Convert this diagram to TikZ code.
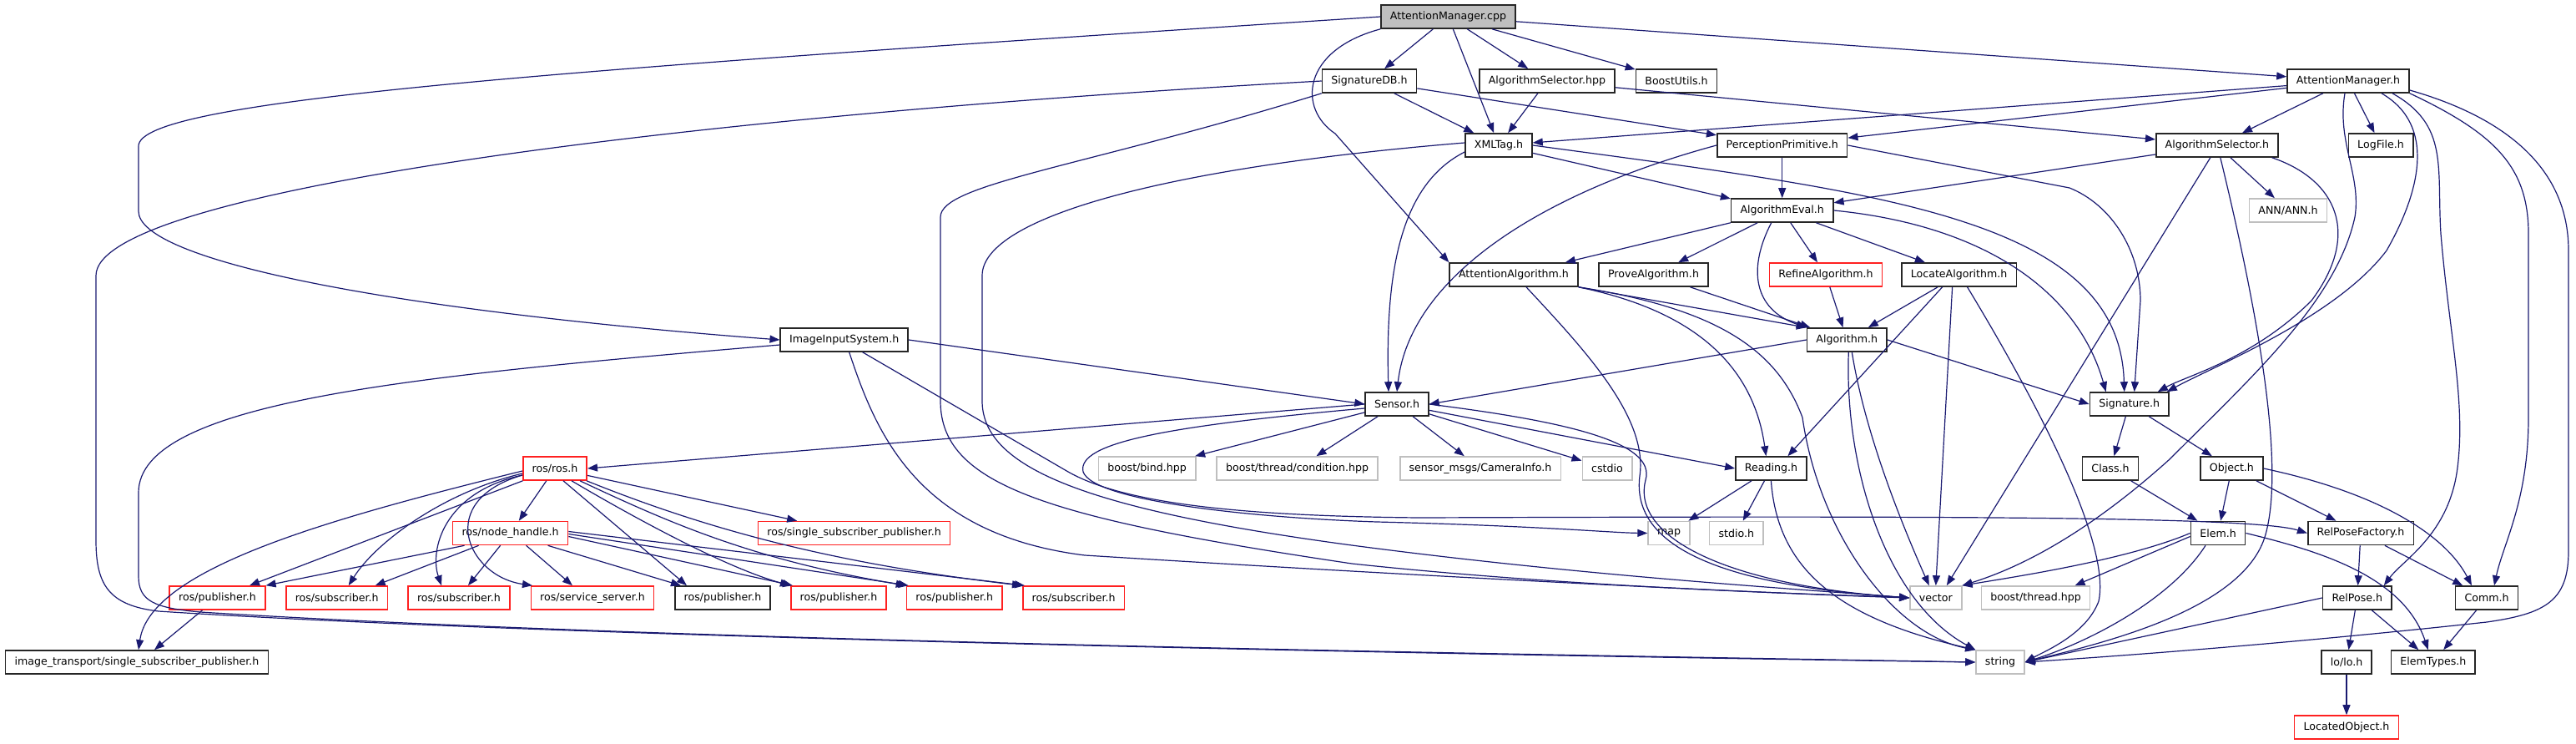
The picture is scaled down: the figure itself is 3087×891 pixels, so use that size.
\documentclass[tikz,border=0pt]{standalone}
\usepackage{fontspec}
\setmainfont{DejaVu Sans}
\usetikzlibrary{arrows.meta}
\definecolor{edgeblue}{HTML}{191970}
\definecolor{sysgray}{HTML}{BFBFBF}
\definecolor{extred}{HTML}{FF2020}

\begin{document}
\begin{tikzpicture}[
    x=1pt, y=-1pt,
    font=\fontsize{12.6}{15}\selectfont,
    incl/.style={draw=black!85, line width=1.6pt, fill=white, inner xsep=10.9pt, inner ysep=0pt, minimum height=28pt},
    hdr/.style={incl},
    sys/.style={incl, draw=sysgray},
    ext/.style={incl, draw=extred},
    root/.style={incl, fill=sysgray},
    dep/.style={draw=edgeblue, line width=1.2pt, -{Triangle[length=12pt,width=9pt]}}
]
\useasboundingbox (0,0) rectangle (3087,891);

% Files
\node (amcpp) at (1735.5,20) [root] {AttentionManager.cpp};
\node (sigdb) at (1641,97) [hdr] {SignatureDB.h};
\node (selhpp) at (1854,97) [hdr] {AlgorithmSelector.hpp};
\node (boostutils) at (2009,97) [hdr] {BoostUtils.h};
\node (amh) at (2814,97) [hdr] {AttentionManager.h};
\node (xmltag) at (1796,174) [hdr] {XMLTag.h};
\node (percprim) at (2135.7,174) [hdr] {PerceptionPrimitive.h};
\node (selh) at (2656.8,174) [hdr] {AlgorithmSelector.h};
\node (logfile) at (2853,174) [hdr] {LogFile.h};
\node (algeval) at (2135.7,252) [hdr] {AlgorithmEval.h};
\node (ann) at (2742,252) [sys] {ANN/ANN.h};
\node (attalg) at (1814,329) [hdr] {AttentionAlgorithm.h};
\node (prove) at (1981.5,329) [hdr] {ProveAlgorithm.h};
\node (refine) at (2188,329) [ext] {RefineAlgorithm.h};
\node (locate) at (2347.6,329) [hdr] {LocateAlgorithm.h};
\node (imginput) at (1011.7,407) [hdr] {ImageInputSystem.h};
\node (algorithm) at (2213.3,407) [hdr] {Algorithm.h};
\node (sensor) at (1674,484) [hdr] {Sensor.h};
\node (signature) at (2551.7,484) [hdr] {Signature.h};
\node (rosros) at (665,561) [ext] {ros/ros.h};
\node (bind) at (1374.6,561) [sys] {boost/bind.hpp};
\node (cond) at (1554.5,561) [sys] {boost/thread/condition.hpp};
\node (caminfo) at (1774,561) [sys] {sensor\_msgs/CameraInfo.h};
\node (cstdio) at (1926,561) [sys] {cstdio};
\node (reading) at (2122.4,561) [hdr] {Reading.h};
\node (classh) at (2529,561) [hdr] {Class.h};
\node (object) at (2674.4,561) [hdr] {Object.h};
\node (nodehandle) at (611.6,638.5) [ext] {ros/node\_handle.h};
\node (singlesub) at (1023.6,638.5) [ext] {ros/single\_subscriber\_publisher.h};
\node (map) at (2000,638.5) [sys] {map};
\node (stdio) at (2080.8,638.5) [sys] {stdio.h};
\node (elem) at (2658,638.5) [hdr] {Elem.h};
\node (posefac) at (2829,638.5) [hdr] {RelPoseFactory.h};
\node (pubA) at (260.5,716) [ext] {ros/publisher.h};
\node (subA) at (403.7,716) [ext] {ros/subscriber.h};
\node (subB) at (550,716) [ext] {ros/subscriber.h};
\node (srv) at (710,716) [ext] {ros/service\_server.h};
\node (pubB) at (866,716) [hdr] {ros/publisher.h};
\node (pubC) at (1005,716) [ext] {ros/publisher.h};
\node (pubD) at (1143.8,716) [ext] {ros/publisher.h};
\node (subC) at (1286.6,716) [ext] {ros/subscriber.h};
\node (vector) at (2319.8,716) [sys] {vector};
\node (bthread) at (2439.5,716) [sys] {boost/thread.hpp};
\node (relpose) at (2824.8,716) [hdr] {RelPose.h};
\node (comm) at (2980,716) [hdr] {Comm.h};
\node (imgtrans) at (164,793) [hdr] {image\_transport/single\_subscriber\_publisher.h};
\node (string) at (2397,793) [sys] {string};
\node (lolo) at (2812,793) [hdr] {lo/lo.h};
\node (elemtypes) at (2915.8,793) [hdr] {ElemTypes.h};
\node (located) at (2812,871) [ext] {LocatedObject.h};

% AttentionManager.cpp
\draw [dep] (amcpp.west) .. controls (650,85) and (166,120) .. (166,175) -- (166,253) .. controls (166,310) and (450,370) .. (imginput.west);
\draw [dep] (amcpp) -- (sigdb);
\draw [dep] (amcpp) -- (xmltag);
\draw [dep] (amcpp) -- (selhpp);
\draw [dep] (amcpp) -- (boostutils);
\draw [dep] (amcpp) -- (amh);
\draw [dep] (amcpp.south west) .. controls (1560,60) and (1555,130) .. (1600,160) -- (attalg.north west);

% SignatureDB.h
\draw [dep] (sigdb.west) .. controls (800,140) and (115,230) .. (115,330) -- (115,647) .. controls (115,700) and (130,725) .. (190,732) .. controls (700,765) and (1800,785) .. (string.west);
\draw [dep] (sigdb) -- (xmltag);
\draw [dep] (sigdb) -- (percprim);
\draw [dep] (sigdb.south west) .. controls (1300,200) and (1127,220) .. (1127,260) -- (1127,480) .. controls (1127,580) and (1250,620) .. (1620,675) .. controls (1900,705) and (2200,712) .. (vector.west);

% AlgorithmSelector.hpp
\draw [dep] (selhpp) -- (xmltag);
\draw [dep] (selhpp) -- (selh);

% ImageInputSystem.h
\draw [dep] (imginput.east) -- (sensor.west);
\draw [dep] ([yshift=-6pt]imginput.west) .. controls (500,450) and (166,480) .. (166,590) -- (166,690) .. controls (166,720) and (185,728) .. (240,733) .. controls (800,768) and (1800,783) .. (string.west);
\draw [dep] ([xshift=22pt]imginput.south) -- (1280,565) .. controls (1350,605) and (1500,618) .. (1700,620) .. controls (2300,618) and (2700,618) .. (posefac.west);
\draw [dep] ([xshift=6pt]imginput.south) .. controls (1050,520) and (1100,640) .. (1300,665) .. controls (1700,690) and (2100,710) .. (vector.west);

% AttentionManager.h
\draw [dep] (amh) -- (xmltag);
\draw [dep] (amh) -- (percprim);
\draw [dep] (amh) -- (selh);
\draw [dep] (amh) -- (logfile);
\draw [dep] ([xshift=40pt]amh.south) .. controls (2920,150) and (2900,230) .. (2860,300) .. controls (2800,380) and (2650,440) .. ([xshift=-3pt]signature.north east);
\draw [dep] ([xshift=-4pt]amh.south) .. controls (2800,170) and (2830,210) .. (2822,260) .. controls (2800,360) and (2700,450) .. (2600,550) .. controls (2500,640) and (2420,680) .. (vector.north east);
\draw [dep] ([xshift=53pt]amh.south) .. controls (2935,150) and (2920,200) .. (2925,280) .. controls (2935,400) and (2955,480) .. (2945,560) .. controls (2935,640) and (2880,670) .. ([xshift=-10pt]relpose.north east);
\draw [dep] (amh.south east) .. controls (2990,160) and (3030,200) .. (3030,280) -- (3030,500) .. controls (3030,600) and (3000,650) .. ([xshift=9pt]comm.north);
\draw [dep] ([yshift=-11pt]amh.east) .. controls (3000,140) and (3078,200) .. (3078,300) -- (3078,660) .. controls (3078,720) and (3050,735) .. (2980,745) .. controls (2750,770) and (2550,785) .. (string.east);

% AlgorithmSelector.h
\draw [dep] (selh) -- (algeval);
\draw [dep] (selh) -- (ann);
\draw [dep] ([xshift=-8pt]selh.south east) .. controls (2800,215) and (2830,280) .. (2770,360) .. controls (2700,430) and (2620,450) .. ([xshift=-14pt]signature.north east);
\draw [dep] ([xshift=-8pt]selh.south) -- ([xshift=13pt]vector.north);
\draw [dep] ([xshift=4pt]selh.south) .. controls (2700,350) and (2740,550) .. (2715,640) .. controls (2690,730) and (2520,770) .. (string.east);

% XMLTag.h
\draw [dep] (xmltag) -- (algeval);
\draw [dep] (xmltag.east) .. controls (2250,230) and (2540,260) .. ([xshift=-6pt]signature.north);
\draw [dep] ([yshift=-8pt]xmltag.west) .. controls (1680,220) and (1660,320) .. ([xshift=-10pt]sensor.north);
\draw [dep] ([yshift=3pt]xmltag.west) .. controls (1400,200) and (1177,260) .. (1177,330) -- (1177,480) .. controls (1177,560) and (1300,610) .. (1620,653) .. controls (1900,690) and (2150,705) .. (vector.west);

% PerceptionPrimitive.h
\draw [dep] (percprim) -- (algeval);
\draw [dep] (percprim.west) .. controls (1850,230) and (1690,330) .. (sensor.north);
\draw [dep] (percprim.east) -- (2480,225) .. controls (2530,245) and (2565,300) .. (2565,360) -- ([xshift=6pt]signature.north);

% AlgorithmEval.h
\draw [dep] (algeval) -- (attalg);
\draw [dep] (algeval) -- (prove);
\draw [dep] (algeval) -- (refine);
\draw [dep] (algeval) -- (locate);
\draw [dep] ([xshift=-13pt]algeval.south) .. controls (2095,320) and (2100,370) .. (algorithm.north west);
\draw [dep] (algeval.east) .. controls (2380,270) and (2490,350) .. ([xshift=-28pt]signature.north);

% AttentionAlgorithm.h
\draw [dep] (attalg.south east) -- (algorithm.north west);
\draw [dep] (attalg.south east) .. controls (2020,370) and (2100,430) .. ([xshift=-6pt]reading.north);
\draw [dep] (attalg.south east) .. controls (2060,370) and (2130,420) .. (2160,500) .. controls (2180,640) and (2270,760) .. (string.north west);
\draw [dep] ([xshift=15pt]attalg.south) .. controls (1900,420) and (1975,500) .. (1965,570) .. controls (1955,650) and (2050,700) .. (vector.west);

% ProveAlgorithm.h, RefineAlgorithm.h, LocateAlgorithm.h
\draw [dep] (prove) -- (algorithm);
\draw [dep] (refine) -- (algorithm);
\draw [dep] (locate) -- (algorithm);
\draw [dep] ([xshift=-20pt]locate.south) -- ([xshift=20pt]reading.north);
\draw [dep] ([xshift=-8pt]locate.south) -- (vector.north);
\draw [dep] ([xshift=10pt]locate.south) .. controls (2440,480) and (2530,650) .. (2515,720) .. controls (2500,760) and (2450,780) .. (string.east);

% Algorithm.h
\draw [dep] (algorithm.west) -- (sensor.east);
\draw [dep] (algorithm.east) -- (signature.west);
\draw [dep] ([xshift=6pt]algorithm.south) .. controls (2235,520) and (2280,630) .. ([xshift=-8pt]vector.north);
\draw [dep] ([xshift=2pt]algorithm.south) .. controls (2210,560) and (2260,720) .. (string.north west);

% Sensor.h
\draw [dep] (sensor.west) -- (rosros.east);
\draw [dep] (sensor) -- (bind);
\draw [dep] (sensor) -- (cond);
\draw [dep] (sensor) -- (caminfo);
\draw [dep] (sensor) -- (cstdio);
\draw [dep] (sensor) -- (reading.west);
\draw [dep] (sensor.east) .. controls (1880,505) and (1985,530) .. (1972,575) .. controls (1955,640) and (2060,700) .. (vector.west);
\draw [dep] ([yshift=-5pt]sensor.west) .. controls (1400,510) and (1290,530) .. (1298,565) .. controls (1310,600) and (1500,620) .. (1650,625) .. controls (1850,630) and (1930,638) .. (map.west);

% Reading.h
\draw [dep] (reading) -- (map);
\draw [dep] (reading) -- (stdio);
\draw [dep] (reading.south) .. controls (2130,680) and (2200,740) .. (string.north west);

% Signature.h and below
\draw [dep] (signature) -- (classh);
\draw [dep] (signature) -- (object);
\draw [dep] (classh) -- (elem);
\draw [dep] (object) -- (elem);
\draw [dep] (object) -- (posefac);
\draw [dep] (object.east) .. controls (2850,590) and (2930,640) .. ([xshift=-18pt]comm.north);
\draw [dep] (elem.west) .. controls (2550,670) and (2420,690) .. (vector.north east);
\draw [dep] ([yshift=-4pt]elem.west) -- ([xshift=47pt]bthread.north);
\draw [dep] ([xshift=-15pt]elem.south) .. controls (2600,720) and (2500,770) .. (string.east);
\draw [dep] (elem.east) .. controls (2780,660) and (2880,690) .. ([xshift=-6pt]elemtypes.north);
\draw [dep] (posefac) -- (relpose);
\draw [dep] (posefac) -- (comm);
\draw [dep] (relpose.west) -- (string.east);
\draw [dep] (relpose) -- (lolo);
\draw [dep] (relpose) -- (elemtypes);
\draw [dep] (comm) -- (elemtypes);
\draw [dep] (lolo) -- (located);

% ros/ros.h
\draw [dep] (rosros) -- (nodehandle);
\draw [dep] (rosros) -- (singlesub);
\draw [dep] (rosros) -- (pubA);
\draw [dep] ([yshift=-3pt]rosros.west) .. controls (400,620) and (180,680) .. ([xshift=2pt]imgtrans.north);
\draw [dep] ([yshift=-6pt]rosros.west) .. controls (530,590) and (450,650) .. ([xshift=14pt]subA.north);
\draw [dep] ([yshift=-8pt]rosros.west) .. controls (530,590) and (515,660) .. ([xshift=-21pt]subB.north);
\draw [dep] ([yshift=-8pt]rosros.west) .. controls (520,600) and (560,690) .. ([xshift=-72pt]srv.north);
\draw [dep] ([xshift=10pt]rosros.south) -- ([xshift=-43pt]pubB.north);
\draw [dep] ([xshift=20pt]rosros.south) .. controls (760,620) and (870,680) .. (pubC.north west);
\draw [dep] ([xshift=30pt]rosros.south) .. controls (800,625) and (900,670) .. (pubD.north west);
\draw [dep] ([xshift=38pt]rosros.south) .. controls (850,635) and (1000,675) .. (subC.north west);

% ros/node_handle.h
\draw [dep] ([xshift=-55pt]nodehandle.south) -- (pubA.north east);
\draw [dep] ([xshift=-38pt]nodehandle.south) -- ([xshift=46pt]subA.north);
\draw [dep] ([xshift=-12pt]nodehandle.south) -- ([xshift=11pt]subB.north);
\draw [dep] ([xshift=19pt]nodehandle.south) -- ([xshift=-24pt]srv.north);
\draw [dep] ([xshift=45pt]nodehandle.south) -- ([xshift=-50pt]pubB.north);
\draw [dep] ([yshift=-4pt]nodehandle.east) -- ([xshift=3pt]pubC.north west);
\draw [dep] ([yshift=-1pt]nodehandle.east) -- ([xshift=3pt]pubD.north west);
\draw [dep] ([yshift=2pt]nodehandle.east) -- ([xshift=3pt]subC.north west);
\draw [dep] ([xshift=-18pt]pubA.south) -- ([xshift=21pt]imgtrans.north);

\end{tikzpicture}
\end{document}
